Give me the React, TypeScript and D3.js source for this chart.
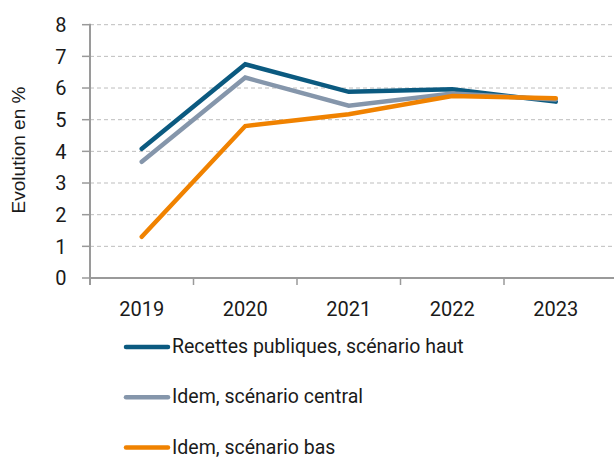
import React from "react";
import * as d3 from "d3";

const years = ["2019", "2020", "2021", "2022", "2023"];
const haut = [4.08, 6.75, 5.88, 5.96, 5.57];
const central = [3.67, 6.33, 5.44, 5.83, 5.64];
const bas = [1.3, 4.8, 5.17, 5.75, 5.68];
const seriesNames = [
  "Recettes publiques, scénario haut",
  "Idem, scénario central",
  "Idem, scénario bas",
];
const seriesColors = ["#0b5a80", "#8596ab", "#f08200"];
const yTicks = [0, 1, 2, 3, 4, 5, 6, 7, 8];

export default function App() {
  const W = 614, H = 458;
  const left = 90, right = 607.5, top = 24.7, bottom = 278;
  const x = d3.scaleBand<string>().domain(years).range([left, right]);
  const y = d3.scaleLinear().domain([0, 8]).range([bottom, top]);
  const line = d3
    .line<number>()
    .x((_, i) => (x(years[i]) as number) + x.bandwidth() / 2)
    .y((d) => y(d));
  const all = [haut, central, bas];
  const font = "Roboto, 'DejaVu Sans', sans-serif";
  return (
    <svg
      width={W}
      height={H}
      style={{ position: "absolute", left: 0, top: 0 }}
      fontFamily={font}
    >
      {yTicks.map((t) => (
        <g key={t}>
          {t > 0 && (
            <line
              x1={left}
              x2={W}
              y1={y(t)}
              y2={y(t)}
              stroke="#bdbdbd"
              strokeWidth={1}
              strokeDasharray="4,3"
            />
          )}
          <line x1={82} x2={left} y1={y(t)} y2={y(t)} stroke="#9a9a9a" strokeWidth={1.5} />
          <text x={66.5} y={y(t)} dy="0.36em" textAnchor="end" fontSize={20} fill="#1a1a1a">
            {t}
          </text>
        </g>
      ))}
      <line x1={left} x2={left} y1={top - 1} y2={bottom + 7} stroke="#9a9a9a" strokeWidth={2} />
      <line x1={left} x2={W} y1={bottom} y2={bottom} stroke="#9a9a9a" strokeWidth={2} />
      {years.map((yr, i) =>
        i > 0 ? (
          <line
            key={"t" + yr}
            x1={x(yr) as number}
            x2={x(yr) as number}
            y1={bottom}
            y2={bottom + 7}
            stroke="#9a9a9a"
            strokeWidth={1.5}
          />
        ) : null
      )}
      {years.map((yr) => (
        <text
          key={yr}
          x={(x(yr) as number) + x.bandwidth() / 2}
          y={316}
          textAnchor="middle"
          fontSize={20}
          fill="#1a1a1a"
        >
          {yr}
        </text>
      ))}
      <text
        transform="translate(25,150) rotate(-90)"
        textAnchor="middle"
        fontSize={19}
        fontFamily="'Liberation Sans', Arial, sans-serif"
        fill="#1a1a1a"
      >
        Evolution en %
      </text>
      {all.map((s, i) => (
        <path
          key={i}
          d={line(s) || ""}
          fill="none"
          stroke={seriesColors[i]}
          strokeWidth={4.5}
          strokeLinecap="round"
          strokeLinejoin="miter"
        />
      ))}
      {seriesNames.map((n, i) => {
        const ly = 347 + i * 50.2;
        return (
          <g key={n}>
            <line
              x1={126}
              x2={168}
              y1={ly}
              y2={ly}
              stroke={seriesColors[i]}
              strokeWidth={4.5}
              strokeLinecap="round"
            />
            <text x={172} y={ly} dy="0.32em" fontSize={19.5} fill="#1a1a1a">
              {n}
            </text>
          </g>
        );
      })}
    </svg>
  );
}
